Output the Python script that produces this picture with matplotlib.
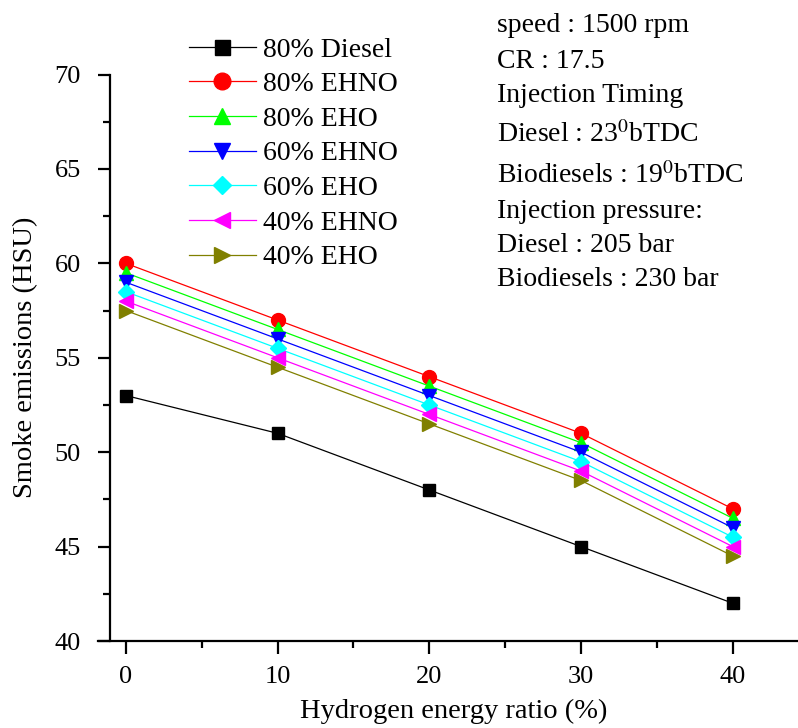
import matplotlib
matplotlib.use("Agg")
import matplotlib.pyplot as plt
from matplotlib.ticker import MultipleLocator

plt.rcParams["font.family"] = ["Liberation Serif", "DejaVu Serif"]
plt.rcParams["mathtext.fontset"] = "stix"

h2_ratio = [0, 10, 20, 30, 40]
diesel_80 = [53, 51, 48, 45, 42]
ehno_80 = [60, 57, 54, 51, 47]
eho_80 = [59.5, 56.5, 53.5, 50.5, 46.5]
ehno_60 = [59, 56, 53, 50, 46]
eho_60 = [58.5, 55.5, 52.5, 49.5, 45.5]
ehno_40 = [58, 55, 52, 49, 45]
eho_40 = [57.5, 54.5, 51.5, 48.5, 44.5]

series = [
    ("80% Diesel", diesel_80, "black", "s", 9),
    ("80% EHNO", ehno_80, "red", "o", 10),
    ("80% EHO", eho_80, "#00ff00", "^", 10),
    ("60% EHNO", ehno_60, "blue", "v", 10),
    ("60% EHO", eho_60, "cyan", "D", 8),
    ("40% EHNO", ehno_40, "magenta", "<", 10),
    ("40% EHO", eho_40, "#808000", ">", 10),
]

info_lines = [
    ("speed : 1500 rpm", 25),
    ("CR : 17.5", 61),
    ("Injection Timing", 96),
    ("Diesel : 23$^{0}$bTDC", 135),
    ("Biodiesels : 19$^{0}$bTDC", 176),
    ("Injection pressure:", 212),
    ("Diesel : 205 bar", 246),
    ("Biodiesels : 230 bar", 280),
]

W, H = 798, 728
fig = plt.figure(figsize=(W / 100, H / 100), dpi=100)
ax = fig.add_axes([110 / W, 1 - 641 / H, (W - 110) / W, (641 - 74.5) / H])

for label, vals, color, marker, ms in series:
    ax.plot(h2_ratio, vals, color=color, marker=marker, markersize=ms,
            linewidth=0.9, label=label)

ax.set_xlim(-1.04, 44.3)
ax.set_ylim(40, 70)
ax.xaxis.set_major_locator(MultipleLocator(10))
ax.xaxis.set_minor_locator(MultipleLocator(5))
ax.yaxis.set_major_locator(MultipleLocator(5))
ax.yaxis.set_minor_locator(MultipleLocator(2.5))

for side in ["top", "right"]:
    ax.spines[side].set_visible(False)
for side in ["left", "bottom"]:
    ax.spines[side].set_linewidth(1.6)
ax.spines["bottom"].set_bounds(-1.85, 44.3)

ax.tick_params(which="major", direction="out", length=9, width=1.6, labelsize=19)
ax.tick_params(which="minor", direction="out", length=5, width=1.6)
ax.tick_params(axis="x", pad=9)
ax.tick_params(axis="y", pad=12)

ax.set_xlabel("Hydrogen energy ratio (%)", fontsize=20.5, labelpad=8)
ax.set_ylabel("Smoke emissions (HSU)", fontsize=20.5, labelpad=12)

ax.legend(loc="upper left", bbox_to_anchor=(178 / W, 1 - 26 / H),
          bbox_transform=fig.transFigure, frameon=False, fontsize=20,
          handlelength=2.4, handletextpad=0.25, labelspacing=0.33,
          markerscale=1.2, borderaxespad=0)

for txt, y in info_lines:
    fig.text(497 / W, 1 - y / H, txt, fontsize=20, va="center", ha="left")

fig.savefig("out.png", dpi=100)
